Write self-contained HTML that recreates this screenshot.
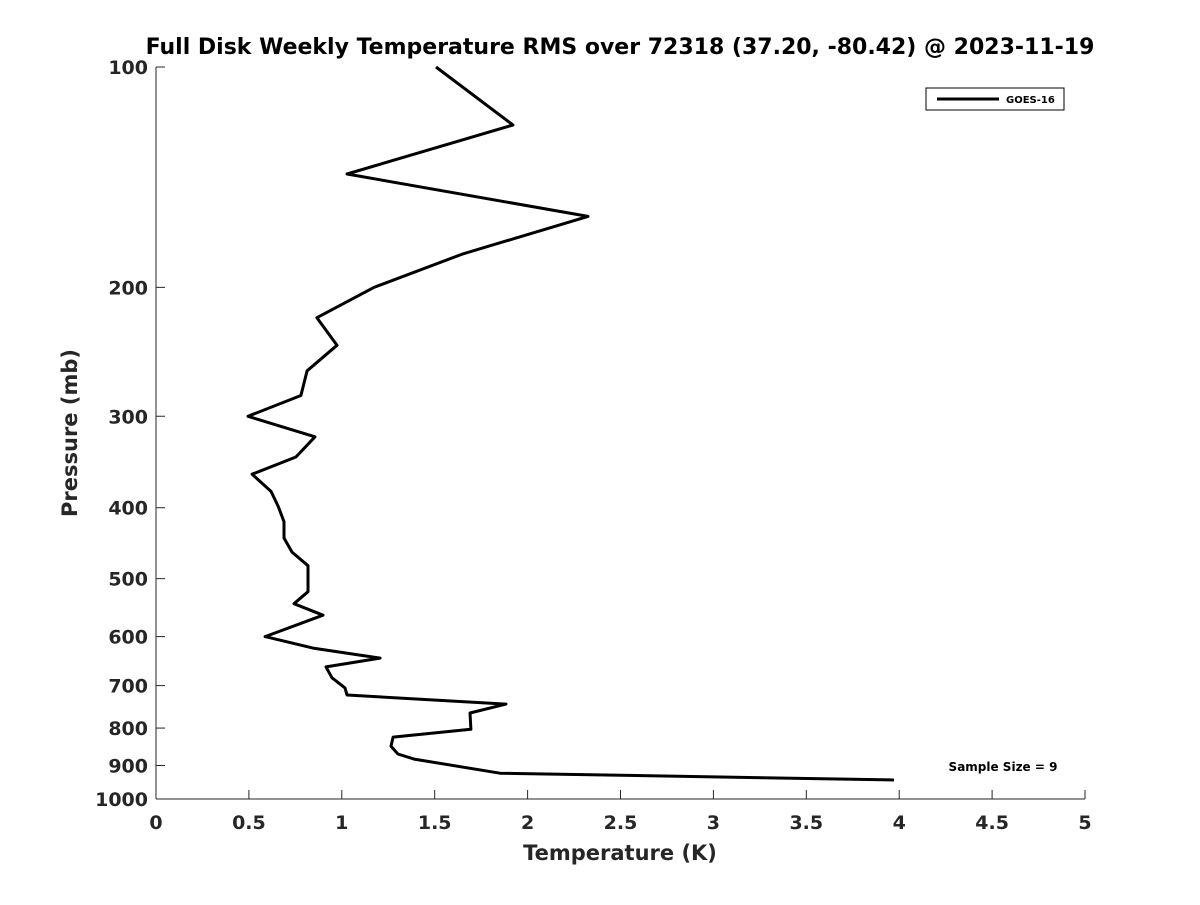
<!DOCTYPE html>
<html><head><meta charset="utf-8"><style>
body{margin:0;background:#fff;}
svg text{font-family:"DejaVu Sans","Liberation Sans",sans-serif;font-weight:bold;fill:#262626;}
</style></head><body>
<svg id="chart" width="1200" height="900" xmlns="http://www.w3.org/2000/svg">
<rect width="1200" height="900" fill="#fff"/>
<text x="620" y="54" text-anchor="middle" font-size="22" style="fill:#000">Full Disk Weekly Temperature RMS over 72318 (37.20, -80.42) @ 2023-11-19</text>
<g id="axes"></g>
<polyline id="line" fill="none" stroke="#000" stroke-width="3" stroke-linejoin="round"/>
<text x="620" y="860" text-anchor="middle" font-size="21">Temperature (K)</text>
<text transform="translate(77,433) rotate(-90)" text-anchor="middle" font-size="21">Pressure (mb)</text>
<g>
<rect x="926" y="88" width="138" height="22" fill="#fff" stroke="#000" stroke-width="1"/>
<line x1="937" y1="99" x2="999" y2="99" stroke="#000" stroke-width="3"/>
<text x="1006" y="103" font-size="10" style="fill:#000">GOES-16</text>
</g>
<text x="1003" y="771" text-anchor="middle" font-size="12" style="fill:#000">Sample Size = 9</text>
</svg>
<script>
const xTicks=[0,0.5,1,1.5,2,2.5,3,3.5,4,4.5,5];
const yTicks=[100,200,300,400,500,600,700,800,900,1000];
const temps=[1.507,1.921,1.028,2.325,1.652,1.173,0.866,0.974,0.813,0.780,0.495,0.856,0.753,0.517,0.619,0.657,0.689,0.689,0.732,0.818,0.818,0.743,0.899,0.587,0.845,1.206,0.915,0.947,1.017,1.028,1.884,1.690,1.695,1.276,1.265,1.302,1.389,1.851,3.972];
const pressures=[100,120,140,160,180,200,220,240,260,281,300,320,341,360,380,398,418,440,460,480,521,541,561,600,622,642,660,683,705,721,742,763,803,823,847,868,882,922,942];
const X0=156,X1=1085,Y0=67,Y1=799;
function xs(v){return X0+(v-0)/5*(X1-X0);}
function ys(p){return Y0+(Math.log10(p)-2)*(Y1-Y0);}
const NS="http://www.w3.org/2000/svg";
const g=document.getElementById('axes');
function mk(t,a){const e=document.createElementNS(NS,t);for(const k in a)e.setAttribute(k,a[k]);g.appendChild(e);return e;}
const ax=mk('line',{x1:X0,y1:Y1,x2:X1,y2:Y1,stroke:'#262626','stroke-width':1});


const ay=mk('line',{x1:X0,y1:Y0,x2:X0,y2:Y1,stroke:'#262626','stroke-width':1});


xTicks.forEach(v=>{const x=xs(v);
mk('line',{x1:x,y1:Y1,x2:x,y2:Y1-9,stroke:'#262626'});
const t=mk('text',{x:x,y:Y1+30,'text-anchor':'middle','font-size':19});t.textContent=String(v);

});
yTicks.forEach(v=>{const y=ys(v);
mk('line',{x1:X0,y1:y,x2:X0+9,y2:y,stroke:'#262626'});
const t=mk('text',{x:X0-8,y:y+7,'text-anchor':'end','font-size':19});t.textContent=String(v);

});
document.getElementById('line').setAttribute('points',temps.map((t,i)=>xs(t).toFixed(1)+','+ys(pressures[i]).toFixed(1)).join(' '));
</script>
</body></html>
